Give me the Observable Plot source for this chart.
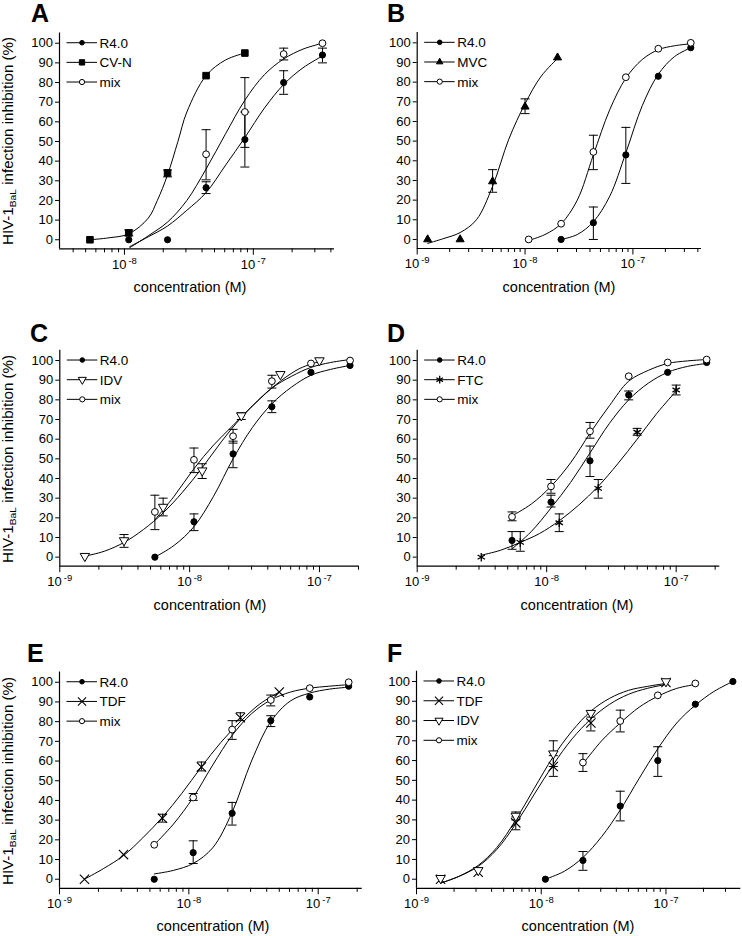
<!DOCTYPE html>
<html><head><meta charset="utf-8">
<script src="https://cdn.jsdelivr.net/npm/d3@7"></script>
<script src="https://cdn.jsdelivr.net/npm/@observablehq/plot@0.6"></script>
<style>
body{margin:0;background:#fff;}
#wrap{position:relative;width:742px;height:936px;background:#fff;overflow:hidden;font-family:"Liberation Sans",Arial,sans-serif;}
#wrap svg{position:absolute;overflow:visible;}
</style></head><body><div id="wrap"></div>
<script>
// ---------- shared ----------
const yTicks = [0, 10, 20, 30, 40, 50, 60, 70, 80, 90, 100];
const yDomain = [-4.6, 105.2];
const legendRows = [100, 90, 80, 70];
const panelLetters = ["A", "B", "C", "D", "E", "F"];
const xTitle = "concentration (M)";
const yTitleMain = "HIV-1", yTitleSub = "BaL", yTitleRest = " infection inhibition (%)";

// points: [concentration (M), mean %, lower, upper]; fits: [concentration, %]
// ---------- Panel A ----------
const A_R40 = [[1.08e-8,0],[2.16e-8,0],[4.3e-8,26.5,23.5,29.5],[8.6e-8,51,37,65],[1.72e-7,80,74,86],[3.44e-7,94,90,97.5]];
const A_CVN = [[5.4e-9,0],[1.08e-8,3.5,2,5],[2.16e-8,34,32,35.5],[4.3e-8,83.5],[8.6e-8,95]];
const A_mix = [[4.3e-8,43.5,30.5,56],[8.6e-8,65,47,82.5],[1.72e-7,94.5,91.5,97.5],[3.44e-7,100]];
const A_R40_fit = [[1.1e-8,-3.5],[1.53e-8,1.5],[2.16e-8,7],[3.05e-8,15],[4.3e-8,24],[6.1e-8,38],[8.6e-8,52],[1.22e-7,67],[1.72e-7,79],[2.43e-7,87.5],[3.44e-7,93.5]];
const A_CVN_fit = [[5.4e-9,0],[7.6e-9,1],[1.08e-8,3],[1.53e-8,11],[1.8e-8,20],[2.16e-8,33],[2.6e-8,50],[3.05e-8,65],[4.3e-8,83.5],[6.1e-8,91.5],[8.6e-8,95]];
const A_mix_fit = [[1.1e-8,-4],[1.53e-8,2],[2.16e-8,9],[3.05e-8,20],[4.3e-8,36],[6.1e-8,54],[8.6e-8,71],[1.22e-7,84],[1.72e-7,92],[2.43e-7,97],[3.44e-7,100]];
// ---------- Panel B ----------
const B_R40 = [[2.16e-8,0],[4.3e-8,8.5,0,16.5],[8.6e-8,43,28.5,57],[1.72e-7,83],[3.44e-7,97.5]];
const B_MVC = [[1.25e-9,0],[2.5e-9,0],[5e-9,29.5,24,35.5],[1e-8,67.5,64,71.5],[2e-8,92.5]];
const B_mix = [[1.08e-8,0],[2.16e-8,8],[4.3e-8,44.5,35.5,53],[8.6e-8,82.5],[1.72e-7,97],[3.44e-7,100]];
const B_R40_fit = [[2.16e-8,0],[3.05e-8,2.5],[4.3e-8,9],[6.1e-8,22],[8.6e-8,44],[1.22e-7,68],[1.72e-7,84],[2.43e-7,93],[3.44e-7,97.5]];
const B_MVC_fit = [[1.25e-9,-2],[1.77e-9,0.5],[2.5e-9,3.5],[3.54e-9,10],[5e-9,27],[7.07e-9,51],[1e-8,69],[1.41e-8,83],[2e-8,92]];
const B_mix_fit = [[1.08e-8,-0.5],[1.53e-8,2.5],[2.16e-8,8],[3.05e-8,20],[4.3e-8,43],[6.1e-8,66],[8.6e-8,82],[1.22e-7,91.5],[1.72e-7,96.5],[2.43e-7,98.5],[3.44e-7,99.5]];
// ---------- Panel C ----------
const C_R40 = [[5.4e-9,0],[1.08e-8,18,13.5,22],[2.16e-8,52.5,45.5,59],[4.3e-8,76.5,73.5,79.5],[8.6e-8,94],[1.72e-7,97.5]];
const C_IDV = [[1.56e-9,0.5],[3.125e-9,8.5,5,11.5],[6.25e-9,25.5,21,30],[1.25e-8,44,40,47.5],[2.5e-8,72,70,73.5],[5e-8,93],[1e-7,100]];
const C_mix = [[5.4e-9,23,14,31.5],[1.08e-8,49.5,43,55.5],[2.16e-8,61.5,58,65],[4.3e-8,89.5,86,92.5],[8.6e-8,98.5],[1.72e-7,100]];
const C_R40_fit = [[5.4e-9,0],[7.6e-9,6],[1.08e-8,15.5],[1.53e-8,31],[2.16e-8,50],[3.05e-8,66],[4.3e-8,78],[6.1e-8,86.5],[8.6e-8,92.5],[1.22e-7,95.5],[1.72e-7,97.5]];
const C_IDV_fit = [[1.56e-9,0.5],[2.2e-9,3],[3.125e-9,7.5],[4.4e-9,14],[6.25e-9,22.5],[8.8e-9,33],[1.25e-8,45.5],[1.77e-8,59],[2.5e-8,71],[3.54e-8,81],[5e-8,89.5],[7.07e-8,96],[1e-7,99.5]];
const C_mix_fit = [[5.4e-9,19],[7.6e-9,31],[1.08e-8,45],[1.53e-8,57],[2.16e-8,67],[3.05e-8,77],[4.3e-8,86],[6.1e-8,92],[8.6e-8,96.5],[1.22e-7,99],[1.72e-7,100.5]];
// ---------- Panel D ----------
const D_R40 = [[5.4e-9,8.5,4,13],[1.08e-8,28,25.5,31.5],[2.16e-8,49,41,56.5],[4.3e-8,82.5,80,84.5],[8.6e-8,94],[1.72e-7,99]];
const D_FTC = [[3.125e-9,0],[6.25e-9,7.5,3,13],[1.25e-8,17.5,13,22],[2.5e-8,35,30,39.5],[5e-8,63.5,62,65.5],[1e-7,85,82.5,87.5]];
const D_mix = [[5.4e-9,20.5,18.5,23],[1.08e-8,36,32.5,39.5],[2.16e-8,64,60.5,68.5],[4.3e-8,92],[8.6e-8,99],[1.72e-7,100.5]];
const D_R40_fit = [[5.4e-9,4.2],[7.6e-9,13],[1.08e-8,25],[1.53e-8,38],[2.16e-8,53],[3.05e-8,68],[4.3e-8,80],[6.1e-8,88.5],[8.6e-8,94],[1.22e-7,97],[1.72e-7,98.5]];
const D_FTC_fit = [[3.125e-9,1],[4.4e-9,3.5],[6.25e-9,7.5],[8.8e-9,12],[1.25e-8,18.5],[1.77e-8,26.5],[2.5e-8,36],[3.54e-8,47.5],[5e-8,60],[7.07e-8,73],[1e-7,84.5]];
const D_mix_fit = [[5.4e-9,21],[7.6e-9,27],[1.08e-8,36],[1.53e-8,48],[2.16e-8,63],[3.05e-8,77],[4.3e-8,89.5],[6.1e-8,95],[8.6e-8,98.5],[1.22e-7,99.8],[1.72e-7,100.5]];
// ---------- Panel E ----------
const E_R40 = [[5.4e-9,0],[1.08e-8,13.5,8,19.5],[2.16e-8,33.5,27.5,39],[4.3e-8,80.5,77.5,83],[8.6e-8,92.5],[1.72e-7,98]];
const E_TDF = [[1.56e-9,0],[3.125e-9,12.5],[6.25e-9,31,29,33],[1.25e-8,57,55,59.5],[2.5e-8,82,80.5,84.5],[5e-8,95]];
const E_mix = [[5.4e-9,17.5],[1.08e-8,41.5,40,43.5],[2.16e-8,76,71,80.5],[4.3e-8,91,88,93.5],[8.6e-8,97],[1.72e-7,100]];
const E_R40_fit = [[5.4e-9,2.7],[7.6e-9,4.5],[1.08e-8,8],[1.53e-8,16],[2.16e-8,34],[3.05e-8,60],[4.3e-8,80],[6.1e-8,90.5],[8.6e-8,94.5],[1.22e-7,96.5],[1.72e-7,97.5]];
const E_TDF_fit = [[1.56e-9,0],[2.2e-9,5.5],[3.125e-9,12],[4.4e-9,21],[6.25e-9,31.5],[8.8e-9,43.5],[1.25e-8,57],[1.77e-8,69.5],[2.5e-8,80],[3.54e-8,89],[5e-8,95]];
const E_mix_fit = [[5.4e-9,17.5],[7.6e-9,28],[1.08e-8,41.5],[1.53e-8,58],[2.16e-8,73],[3.05e-8,84],[4.3e-8,91],[6.1e-8,95],[8.6e-8,97],[1.22e-7,98],[1.72e-7,98.8]];
// ---------- Panel F ----------
const F_R40 = [[1.08e-8,0],[2.16e-8,9.5,4.5,14],[4.3e-8,37,29.5,44.5],[8.6e-8,60,52,67],[1.72e-7,88.5],[3.44e-7,100]];
const F_TDF = [[1.56e-9,0],[3.125e-9,3.5],[6.25e-9,28.5,25,31.5],[1.25e-8,57,52,62.5],[2.5e-8,79,75,82],[1e-7,99.5]];
const F_IDV = [[1.56e-9,0.5],[3.125e-9,4.5],[6.25e-9,32,30,34],[1.25e-8,63.5,57,70],[2.5e-8,84],[1e-7,100]];
const F_mix = [[2.16e-8,59,54.5,63.5],[4.3e-8,80,74.5,85.5],[8.6e-8,93],[1.72e-7,99]];
const F_R40_fit = [[1.08e-8,0],[1.53e-8,4],[2.16e-8,11],[3.05e-8,21.5],[4.3e-8,35],[6.1e-8,51],[8.6e-8,66],[1.22e-7,79],[1.72e-7,88],[2.43e-7,95],[3.44e-7,100]];
const F_TDF_fit = [[1.56e-9,-2],[2.2e-9,1.5],[3.125e-9,6.5],[4.4e-9,15],[6.25e-9,28],[8.8e-9,43],[1.25e-8,58],[1.77e-8,71],[2.5e-8,81],[3.54e-8,88.5],[5e-8,93.5],[7.07e-8,96.5],[1e-7,98.5]];
const F_IDV_fit = [[1.56e-9,-2],[2.2e-9,1.5],[3.125e-9,7],[4.4e-9,16],[6.25e-9,30],[8.8e-9,46],[1.25e-8,62],[1.77e-8,75],[2.5e-8,85],[3.54e-8,91.5],[5e-8,95.5],[7.07e-8,97.5],[1e-7,99]];
const F_mix_fit = [[2.16e-8,58.3],[3.05e-8,70],[4.3e-8,79],[6.1e-8,87],[8.6e-8,92.5],[1.22e-7,96.5],[1.72e-7,98.5]];

// ---------- symbols ----------
const sqrt3 = Math.sqrt(3);
const invTriangle = {draw(ctx, size) {
  const y = Math.sqrt(size / (sqrt3 * 3));
  ctx.moveTo(0, y * 2); ctx.lineTo(-sqrt3 * y, -y); ctx.lineTo(sqrt3 * y, -y); ctx.closePath();
}};
const capSymbol = {draw(ctx) { ctx.moveTo(-4.5, 0); ctx.lineTo(4.5, 0); }};
const SYM = {
  dotFilled:  {type: d3.symbolCircle,   fill: "black", r: 3.1, lr: 2.3, sw: 1},
  square:     {type: d3.symbolSquare,   fill: "black", r: 3.7, lr: 3.0, sw: 1},
  dotOpen:    {type: d3.symbolCircle,   fill: "white", r: 3.4, lr: 2.6, sw: 1},
  triangle:   {type: d3.symbolTriangle, fill: "black", r: 3.0, lr: 2.4, sw: 1},
  invTriangle:{type: invTriangle,       fill: "white", r: 3.5, lr: 3.0, sw: 1},
  asterisk:   {type: d3.symbolAsterisk, fill: "none",  r: 4.0, lr: 3.6, sw: 1.3},
  times:      {type: d3.symbolTimes,    fill: "none",  r: 4.3, lr: 3.8, sw: 1.1}
};

// ---------- panels ----------
const panels = [
  {left: 0, top: 0, w: 371, h: 300, mL: 59, mR: 37, mT: 32.5, mB: 51.7, x: [Math.pow(10,-8.504), Math.pow(10,-6.37)], majors: [1e-8, 1e-7],
   titleX: 190, titleY: 291.5, yTitleY: 141,
   series: [{label: "R4.0", pts: A_R40, fit: A_R40_fit, sym: "dotFilled"}, {label: "CV-N", pts: A_CVN, fit: A_CVN_fit, sym: "square"}, {label: "mix", pts: A_mix, fit: A_mix_fit, sym: "dotOpen"}]},
  {left: 371, top: 0, w: 371, h: 300, mL: 45.7, mR: 41, mT: 32.1, mB: 52, x: [1e-9, Math.pow(10,-6.364)], majors: [1e-9, 1e-8, 1e-7],
   titleX: 559, titleY: 291.5,
   series: [{label: "R4.0", pts: B_R40, fit: B_R40_fit, sym: "dotFilled"}, {label: "MVC", pts: B_MVC, fit: B_MVC_fit, sym: "triangle"}, {label: "mix", pts: B_mix, fit: B_mix_fit, sym: "dotOpen"}]},
  {left: 0, top: 300, w: 371, h: 310, mL: 59.3, mR: 12.7, mT: 49.8, mB: 44.3, x: [1e-9, Math.pow(10,-6.697)], majors: [1e-9, 1e-8, 1e-7],
   titleX: 210, titleY: 609.5, yTitleY: 459,
   series: [{label: "R4.0", pts: C_R40, fit: C_R40_fit, sym: "dotFilled"}, {label: "IDV", pts: C_IDV, fit: C_IDV_fit, sym: "invTriangle"}, {label: "mix", pts: C_mix, fit: C_mix_fit, sym: "dotOpen"}]},
  {left: 371, top: 300, w: 371, h: 310, mL: 45.7, mR: 22.7, mT: 49.8, mB: 44.3, x: [1e-9, Math.pow(10,-6.663)], majors: [1e-9, 1e-8, 1e-7],
   titleX: 577, titleY: 609.5,
   series: [{label: "R4.0", pts: D_R40, fit: D_R40_fit, sym: "dotFilled"}, {label: "FTC", pts: D_FTC, fit: D_FTC_fit, sym: "asterisk"}, {label: "mix", pts: D_mix, fit: D_mix_fit, sym: "dotOpen"}]},
  {left: 0, top: 610, w: 371, h: 326, mL: 59, mR: 9.3, mT: 61.5, mB: 48.2, x: [1e-9, Math.pow(10,-6.66)], majors: [1e-9, 1e-8, 1e-7],
   titleX: 213, titleY: 931, yTitleY: 781,
   series: [{label: "R4.0", pts: E_R40, fit: E_R40_fit, sym: "dotFilled"}, {label: "TDF", pts: E_TDF, fit: E_TDF_fit, sym: "times"}, {label: "mix", pts: E_mix, fit: E_mix_fit, sym: "dotOpen"}]},
  {left: 371, top: 610, w: 371, h: 326, mL: 45, mR: 1.7, mT: 60.7, mB: 48.2, x: [1e-9, Math.pow(10,-6.4)], majors: [1e-9, 1e-8, 1e-7],
   titleX: 578, titleY: 931,
   series: [{label: "R4.0", pts: F_R40, fit: F_R40_fit, sym: "dotFilled"}, {label: "TDF", pts: F_TDF, fit: F_TDF_fit, sym: "times"}, {label: "IDV", pts: F_IDV, fit: F_IDV_fit, sym: "invTriangle"}, {label: "mix", pts: F_mix, fit: F_mix_fit, sym: "dotOpen"}]}
];

const wrap = document.getElementById("wrap");
const FONT = '"Liberation Sans", Arial, sans-serif';
const NS = "http://www.w3.org/2000/svg";

function majors(p) { return p.majors.filter(v => v >= p.x[0] * 0.999 && v <= p.x[1]); }

panels.forEach((p, i) => {
  const minors = [];
  for (let e = Math.floor(Math.log10(p.x[0])); e <= Math.ceil(Math.log10(p.x[1])); e++)
    for (let m = 2; m <= 9; m++) { const v = m * Math.pow(10, e); if (v >= p.x[0] && v <= p.x[1]) minors.push(v); }
  const marks = [
    Plot.axisY({ticks: yTicks, tickSize: 4, tickPadding: 2.5, label: null, fontSize: 13, strokeWidth: 1}),
    Plot.axisX({ticks: majors(p), tickSize: 6.5, tickPadding: 4, label: null, tickFormat: d => "10|" + Math.round(Math.log10(d))}),
    Plot.axisX({ticks: minors, tickSize: 4, label: null, tickFormat: () => ""}),
    Plot.ruleY([yDomain[0]], {stroke: "black", strokeWidth: 1.2}),
    Plot.ruleX([p.x[0]], {stroke: "black", strokeWidth: 1.2})
  ];
  p.series.forEach(s => {
    marks.push(Plot.line(s.fit, {x: d => d[0], y: d => d[1], curve: "catmull-rom", stroke: "black", strokeWidth: 1}));
  });
  p.series.forEach(s => {
    const err = s.pts.filter(d => d.length > 2);
    marks.push(Plot.ruleX(err, {x: d => d[0], y1: d => d[2], y2: d => d[3], stroke: "black", strokeWidth: 1}));
    marks.push(Plot.dot(err, {x: d => d[0], y: d => d[2], symbol: capSymbol, r: 3, fill: "none", stroke: "black", strokeWidth: 1}));
    marks.push(Plot.dot(err, {x: d => d[0], y: d => d[3], symbol: capSymbol, r: 3, fill: "none", stroke: "black", strokeWidth: 1}));
  });
  p.series.forEach(s => {
    const st = SYM[s.sym];
    marks.push(Plot.dot(s.pts, {x: d => d[0], y: d => d[1], symbol: st.type, r: st.r, fill: st.fill, stroke: "black", strokeWidth: st.sw}));
  });
  const chart = Plot.plot({
    width: p.w, height: p.h,
    marginLeft: p.mL, marginRight: p.mR, marginTop: p.mT, marginBottom: p.mB,
    x: {type: "log", domain: p.x},
    y: {domain: yDomain},
    style: {fontFamily: FONT, fontSize: "13px", color: "black", background: "transparent", overflow: "visible"},
    marks
  });
  chart.style.left = p.left + "px";
  chart.style.top = p.top + "px";
  // superscript exponents on x tick labels
  chart.querySelectorAll('g[aria-label="x-axis tick label"] text').forEach(t => {
    const s = t.textContent;
    if (s.includes("|")) {
      const [base, ex] = s.split("|");
      t.textContent = "";
      t.setAttribute("font-size", "13");
      const a = document.createElementNS(NS, "tspan"); a.textContent = base; t.appendChild(a);
      const b = document.createElementNS(NS, "tspan"); b.textContent = ex;
      b.setAttribute("dx", "2"); b.setAttribute("dy", "-5"); b.setAttribute("font-size", "9.5"); t.appendChild(b);
    }
  });
  // legend inside plot area, aligned with y ticks
  const ys = chart.scale("y");
  const g = d3.select(chart).append("g").attr("font-family", FONT).attr("font-size", 13.5).attr("text-anchor", "start");
  p.series.forEach((s, k) => {
    const cy = ys.apply(legendRows[k]);
    const st = SYM[s.sym];
    g.append("line").attr("x1", p.mL + 7.5).attr("x2", p.mL + 38).attr("y1", cy).attr("y2", cy).attr("stroke", "black").attr("stroke-width", 1);
    g.append("path").attr("d", d3.symbol(st.type, Math.PI * st.lr * st.lr)()).attr("transform", `translate(${p.mL + 23},${cy})`)
      .attr("fill", st.fill).attr("stroke", "black").attr("stroke-width", st.sw);
    g.append("text").attr("x", p.mL + 40.5).attr("y", cy).attr("dy", "0.36em").attr("text-anchor", "start").text(s.label);
  });
  wrap.appendChild(chart);
});

// ---------- overlay: panel letters, axis titles ----------
const ov = d3.select(wrap).append("svg").attr("width", 742).attr("height", 936).style("left", "0px").style("top", "0px").style("pointer-events", "none")
  .attr("font-family", FONT);
const letterPos = [[31, 22], [387, 22], [30, 342], [387, 342], [27, 662], [387, 662]];
panelLetters.forEach((L, i) => {
  ov.append("text").attr("x", letterPos[i][0]).attr("y", letterPos[i][1]).attr("font-size", 25).attr("font-weight", "bold").text(L);
});
panels.forEach(p => {
  ov.append("text").attr("x", p.titleX).attr("y", p.titleY).attr("text-anchor", "middle").attr("font-size", 14.5).text(xTitle);
  if (p.yTitleY !== undefined) {
    const t = ov.append("text").attr("transform", `translate(12.5,${p.yTitleY}) rotate(-90) scale(1.08,1)`).attr("text-anchor", "middle").attr("font-size", 14);
    t.append("tspan").text(yTitleMain);
    t.append("tspan").attr("font-size", 9.5).attr("dy", 3.5).text(yTitleSub);
    t.append("tspan").attr("dy", -3.5).text(yTitleRest);
  }
});
</script></body></html>
